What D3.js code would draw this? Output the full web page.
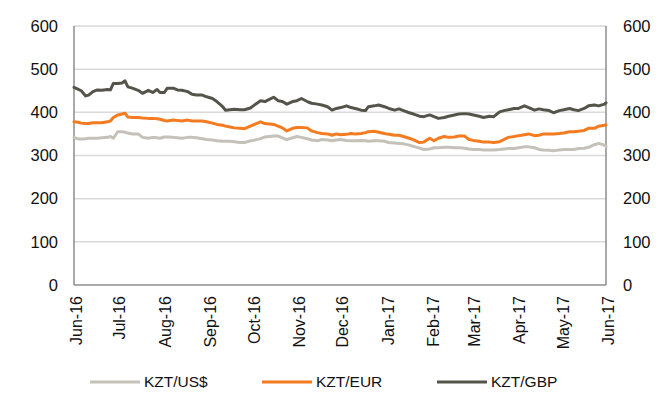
<!DOCTYPE html>
<html>
<head>
<meta charset="utf-8">
<script src="https://cdn.jsdelivr.net/npm/d3@7"></script>
<style>
  html, body { margin: 0; padding: 0; background: #fff; }
  svg { display: block; font-family: "Liberation Sans", Arial, sans-serif; }
</style>
</head>
<body>
<svg id="chart" width="672" height="404"></svg>
<script>
const dates = [
  "2016-06-01","2016-06-04","2016-06-06","2016-06-09","2016-06-11","2016-06-14","2016-06-17","2016-06-20","2016-06-24","2016-06-26",
  "2016-06-28","2016-07-01","2016-07-04","2016-07-06","2016-07-08","2016-07-11","2016-07-15","2016-07-18","2016-07-22","2016-07-25",
  "2016-07-28","2016-07-30","2016-08-02","2016-08-04","2016-08-08","2016-08-11","2016-08-14","2016-08-18","2016-08-21","2016-08-24",
  "2016-08-28","2016-08-31","2016-09-04","2016-09-07","2016-09-11","2016-09-13","2016-09-16","2016-09-19","2016-09-23","2016-09-26",
  "2016-09-30","2016-10-02","2016-10-07","2016-10-10","2016-10-13","2016-10-16","2016-10-19","2016-10-22","2016-10-25","2016-10-29",
  "2016-11-01","2016-11-04","2016-11-08","2016-11-11","2016-11-15","2016-11-18","2016-11-22","2016-11-25","2016-11-28","2016-12-01",
  "2016-12-05","2016-12-08","2016-12-11","2016-12-15","2016-12-18","2016-12-20","2016-12-24","2016-12-27","2016-12-31","2017-01-03",
  "2017-01-07","2017-01-10","2017-01-13","2017-01-17","2017-01-20","2017-01-24","2017-01-27","2017-01-31","2017-02-03","2017-02-06",
  "2017-02-10","2017-02-13","2017-02-17","2017-02-20","2017-02-24","2017-02-27","2017-03-02","2017-03-06","2017-03-09","2017-03-13",
  "2017-03-16","2017-03-20","2017-03-23","2017-03-26","2017-03-30","2017-04-02","2017-04-06","2017-04-09","2017-04-13","2017-04-16",
  "2017-04-19","2017-04-23","2017-04-26","2017-04-30","2017-05-03","2017-05-07","2017-05-10","2017-05-13","2017-05-17","2017-05-20",
  "2017-05-24","2017-05-27","2017-05-31","2017-06-01"
];

const kztUsd = [
  342,338,338,339,340,340,340,341,342,344,
  340,355,355,354,352,350,350,342,340,342,
  341,340,343,343,342,341,340,342,342,341,
  339,337,336,334,333,333,333,332,330,330,
  334,335,339,343,344,345,345,341,337,341,
  344,342,339,336,334,337,336,334,336,337,
  335,334,334,335,334,333,334,334,333,330,
  329,328,327,324,321,317,314,315,318,318,
  319,319,318,318,317,315,314,314,313,313,
  313,314,315,316,316,318,320,320,318,314,
  313,312,311,313,314,314,314,316,317,319,
  325,328,324,321
];

const kztEur = [
  378,377,375,374,374,376,376,376,378,380,
  388,394,396,398,389,388,388,387,386,386,
  385,384,381,380,382,381,380,382,380,380,
  380,378,375,372,370,368,366,364,363,362,
  368,371,378,374,373,372,368,364,357,363,
  365,365,364,357,353,351,350,347,350,348,
  349,351,350,351,353,355,356,354,351,349,
  347,347,344,340,336,330,331,340,334,340,
  344,342,343,345,345,337,335,333,331,331,
  330,332,337,342,344,346,348,350,346,347,
  350,350,350,351,352,355,355,356,358,363,
  363,368,370,371
];

const kztGbp = [
  458,453,450,438,440,448,452,451,453,452,
  467,467,468,473,459,456,451,444,451,446,
  453,446,446,456,456,452,451,448,442,440,
  440,436,432,425,413,405,406,407,406,406,
  410,415,427,425,430,435,427,425,419,425,
  427,432,425,421,419,417,413,405,409,411,
  415,411,409,405,404,413,415,417,413,409,
  405,408,404,399,396,391,390,394,390,386,
  388,391,394,396,397,396,394,391,388,391,
  390,401,404,406,409,409,415,411,405,408,
  406,404,399,404,406,409,406,404,409,415,
  417,415,419,422
];

const seriesNames = ["KZT/US$", "KZT/EUR", "KZT/GBP"];
const seriesColors = ["#c3c1b8", "#f47b20", "#54544b"];
const yTicks = [0, 100, 200, 300, 400, 500, 600];
const xDomain = ["2016-06-01", "2017-06-01"];

const parse = d3.timeParse("%Y-%m-%d");
const fmt = d3.timeFormat("%b-%y");

const svg = d3.select("#chart");
const m = { left: 74, right: 606, top: 26, bottom: 285 };

const x = d3.scaleTime().domain(xDomain.map(parse)).range([m.left, m.right]);
const y = d3.scaleLinear().domain([0, 600]).range([m.bottom, m.top]);

// gridlines
svg.append("g").selectAll("line").data(yTicks.filter(d => d > 0)).join("line")
  .attr("x1", m.left).attr("x2", m.right)
  .attr("y1", d => y(d)).attr("y2", d => y(d))
  .attr("stroke", "#d9d9d9").attr("stroke-width", 1.5);

// axis frame lines
const axisColor = "#8c8c8c";
svg.append("line").attr("x1", m.left).attr("x2", m.left).attr("y1", m.top).attr("y2", m.bottom)
  .attr("stroke", axisColor).attr("stroke-width", 1.5);
svg.append("line").attr("x1", m.right).attr("x2", m.right).attr("y1", m.top).attr("y2", m.bottom)
  .attr("stroke", axisColor).attr("stroke-width", 1.5);
svg.append("line").attr("x1", m.left).attr("x2", m.right).attr("y1", m.bottom).attr("y2", m.bottom)
  .attr("stroke", axisColor).attr("stroke-width", 1.5);

// y axis labels left & right
const leftAxis = d3.axisLeft(y).tickValues(yTicks).tickSize(0).tickPadding(16);
const gL = svg.append("g").attr("transform", `translate(${m.left},0)`).call(leftAxis);
const rightAxis = d3.axisRight(y).tickValues(yTicks).tickSize(0).tickPadding(17);
const gR = svg.append("g").attr("transform", `translate(${m.right},0)`).call(rightAxis);
[gL, gR].forEach(g => {
  g.select(".domain").remove();
  g.selectAll("text").attr("font-size", 16.5).attr("fill", "#111")
    .attr("font-family", "'Liberation Sans', Arial, sans-serif");
});

// x axis
const xAxis = d3.axisBottom(x).ticks(d3.timeMonth.every(1)).tickFormat(fmt).tickSize(0);
const gX = svg.append("g").attr("transform", `translate(0,${m.bottom})`).call(xAxis);
gX.select(".domain").remove();
gX.selectAll("text")
  .attr("font-size", 16).attr("fill", "#111")
  .attr("font-family", "'Liberation Sans', Arial, sans-serif")
  .attr("text-anchor", "end")
  .attr("transform", "rotate(-90)")
  .attr("x", -11).attr("y", 0).attr("dy", "0.45em");

// lines
const seriesData = [kztUsd, kztEur, kztGbp];
const line = d3.line().x(d => x(d.date)).y(d => y(d.value));
seriesData.forEach((vals, i) => {
  const pts = dates.map((dt, j) => ({ date: parse(dt), value: vals[j] }));
  svg.append("path").datum(pts)
    .attr("fill", "none")
    .attr("stroke", seriesColors[i])
    .attr("stroke-width", 3)
    .attr("stroke-linejoin", "round")
    .attr("stroke-linecap", "round")
    .attr("d", line);
});

// legend
const legendX = [90, 262, 437];
const lg = svg.append("g");
seriesNames.forEach((name, i) => {
  lg.append("line").attr("x1", legendX[i]).attr("x2", legendX[i] + 50)
    .attr("y1", 382).attr("y2", 382)
    .attr("stroke", seriesColors[i]).attr("stroke-width", 3);
  lg.append("text").attr("x", legendX[i] + 54).attr("y", 382).attr("dy", "0.35em")
    .attr("font-size", 15.5).attr("fill", "#111").text(name);
});
</script>
</body>
</html>
